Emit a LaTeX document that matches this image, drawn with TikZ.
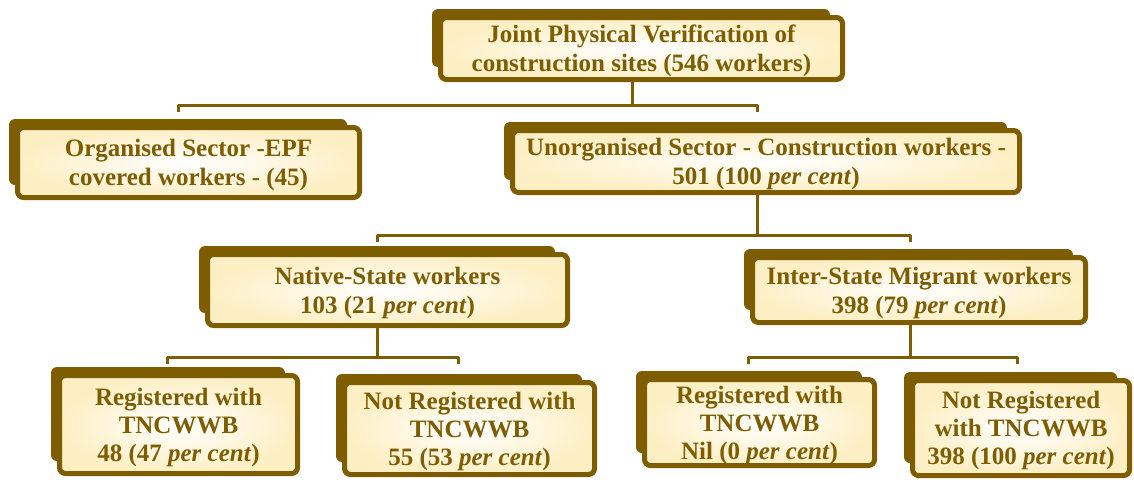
\documentclass[tikz,border=0pt]{standalone}
\usepackage{fontspec}
\setmainfont{Liberation Serif}
\definecolor{brn}{RGB}{126,92,0}
\definecolor{crm}{RGB}{253,239,196}
\tikzset{
  box/.style={draw=brn, line width=5pt, rounded corners=6pt, inner color=white, outer color=crm,
    inner sep=0pt, align=center, text=brn, text depth=-4pt, font=\bfseries\fontsize{25}{29}\selectfont},
  boxs/.style={box, font=\bfseries\fontsize{25}{28}\selectfont},
  backshape/.style={fill=brn, rounded corners=6pt},
  conn/.style={draw=brn, line width=3pt, line join=round}
}
\newcommand\mkbox[7]{%
  \fill[backshape] ({#3-#5/2-6},{#4-#6/2-6}) rectangle ({#3+#5/2-15},{#4+#6/2-15});
  \node[#1, minimum width={#5pt-5pt}, minimum height={#6pt-5pt}] (#2) at (#3,#4) {#7};}
\begin{document}
\begin{tikzpicture}[x=1pt,y=-1pt]
\useasboundingbox (0,0) rectangle (1134,479);
% boxes
\mkbox{box}{top}{641.5}{48.5}{407}{67}{Joint Physical Verification of\\construction sites (546 workers)}
\mkbox{box}{org}{188.5}{162.5}{347}{75}{Organised Sector -EPF\\covered workers - (45)}
\mkbox{box}{unorg}{766}{161.5}{512}{67}{Unorganised Sector - Construction workers -\\501 (100 \textit{per cent})}
\mkbox{box}{native}{387.5}{290}{365}{76}{Native-State workers\\103 (21 \textit{per cent})}
\mkbox{box}{inter}{919}{290}{338}{70}{Inter-State Migrant workers\\398 (79 \textit{per cent})}
\mkbox{boxs}{regN}{178.5}{424.5}{243}{103}{Registered with\\TNCWWB\\48 (47 \textit{per cent})}
\mkbox{boxs}{notN}{469.5}{428.5}{255}{97}{Not Registered with\\TNCWWB\\55 (53 \textit{per cent})}
\mkbox{boxs}{regI}{759.5}{422.5}{235}{91}{Registered with\\TNCWWB\\Nil (0 \textit{per cent})}
\mkbox{boxs}{notI}{1021}{428}{222}{100}{Not Registered\\with TNCWWB\\398 (100 \textit{per cent})}
% connectors
\coordinate (j1) at (632,105);
\coordinate (t1a) at (178,112);
\coordinate (t1b) at (757,112);
\draw[conn] (top.south -| j1) -- (j1);
\draw[conn] (t1a) -- (t1a |- j1) -- (t1b |- j1) -- (t1b);
\coordinate (j2) at (757,235);
\coordinate (t2a) at (377,242);
\coordinate (t2b) at (910,242);
\draw[conn] (unorg.south -| j2) -- (j2);
\draw[conn] (t2a) -- (t2a |- j2) -- (t2b |- j2) -- (t2b);
\coordinate (j3) at (377,357);
\coordinate (t3a) at (167,364);
\coordinate (t3b) at (458,364);
\draw[conn] (native.south -| j3) -- (j3);
\draw[conn] (t3a) -- (t3a |- j3) -- (t3b |- j3) -- (t3b);
\coordinate (j4) at (910,357);
\coordinate (t4a) at (748,364);
\coordinate (t4b) at (1017,364);
\draw[conn] (inter.south -| j4) -- (j4);
\draw[conn] (t4a) -- (t4a |- j4) -- (t4b |- j4) -- (t4b);
\end{tikzpicture}
\end{document}
